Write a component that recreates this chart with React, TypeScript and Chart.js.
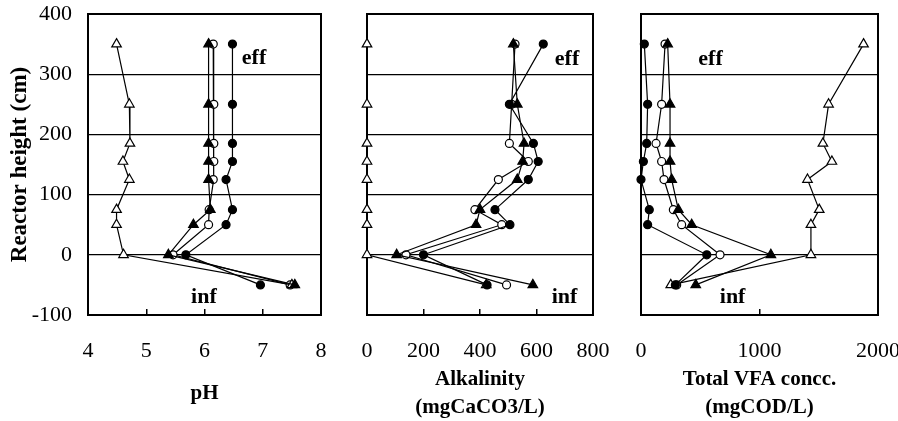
import React, { useEffect, useRef } from "react";
import { Chart, registerables } from "chart.js";

Chart.register(...registerables);

// ---- data ----
const heights = [350, 250, 185, 155, 125, 75, 50, 0, -50];
const yTickValues = [-100, 0, 100, 200, 300, 400];

const phOpenTriangle = [4.49, 4.71, 4.72, 4.6, 4.71, 4.49, 4.49, 4.61, 7.5];
const phOpenCircle = [6.15, 6.16, 6.16, 6.16, 6.15, 6.08, 6.07, 5.46, 7.47];
const phFilledCircle = [6.48, 6.48, 6.48, 6.48, 6.37, 6.48, 6.37, 5.68, 6.96];
const phFilledTriangle = [6.07, 6.07, 6.07, 6.07, 6.07, 6.1, 5.81, 5.38, 7.55];

const alkOpenTriangle = [0, 0, 0, 0, 0, 0, 0, 0, 422];
const alkOpenCircle = [524, 512, 504, 571, 465, 382, 477, 138, 494];
const alkFilledCircle = [624, 504, 589, 606, 571, 453, 506, 200, 425];
const alkFilledTriangle = [518, 532, 556, 551, 532, 400, 386, 105, 587];

const vfaOpenTriangle = [1878, 1583, 1535, 1611, 1405, 1504, 1434, 1434, 251];
const vfaOpenCircle = [203, 174, 127, 174, 194, 273, 343, 667, 301];
const vfaFilledCircle = [28, 56, 48, 20, 0, 70, 56, 555, 290];
const vfaFilledTriangle = [225, 245, 245, 245, 259, 315, 428, 1096, 462];

const phTicks = [4, 5, 6, 7, 8];
const alkTicks = [0, 200, 400, 600, 800];
const vfaTicks = [0, 1000, 2000];

const noteLabels = ["eff", "inf"];
const phNotes = [[6.85, 327], [5.99, -70]];
const alkNotes = [[708, 324], [699, -71]];
const vfaNotes = [[587, 325], [773, -70]];

const yTitle = "Reactor height (cm)";
const phTitle = ["pH"];
const alkTitle = ["Alkalinity", "(mgCaCO3/L)"];
const vfaTitle = ["Total VFA concc.", "(mgCOD/L)"];

const SERIF = "'Liberation Serif', 'Times New Roman', serif";

type PanelProps = {
  left: number;
  width: number;
  padLeft: number;
  padRight: number;
  showY: boolean;
  ticks: number[];
  title: string[];
  titlePad: number;
  titleLH: number;
  openTri: number[];
  openCir: number[];
  fillCir: number[];
  fillTri: number[];
  notes: number[][];
};

function Panel(p: PanelProps) {
  const ref = useRef<HTMLCanvasElement>(null);
  useEffect(() => {
    if (!ref.current) return;
    const mk = (xs: number[], shape: string, fill: string, r: number) => ({
      data: xs.map((x, i) => ({ x, y: heights[i] })),
      showLine: true,
      borderColor: "#000",
      borderWidth: 1.2,
      pointStyle: shape,
      pointRadius: r,
      pointBackgroundColor: fill,
      pointBorderColor: "#000",
      pointBorderWidth: 1.2,
      clip: false as any,
      tension: 0,
    });
    const boxPlugin = {
      id: "box",
      beforeDatasetsDraw(chart: any) {
        const { ctx, chartArea: a } = chart;
        ctx.save();
        ctx.strokeStyle = "#000";
        ctx.lineWidth = 2;
        ctx.strokeRect(a.left, a.top, a.right - a.left, a.bottom - a.top);
        ctx.restore();
      },
      afterDatasetsDraw(chart: any) {
        const { ctx } = chart;
        const xs = chart.scales.x;
        const ys = chart.scales.y;
        ctx.save();
        ctx.fillStyle = "#000";
        ctx.font = `bold 22px ${SERIF}`;
        ctx.textAlign = "center";
        ctx.textBaseline = "middle";
        p.notes.forEach((n, i) => {
          ctx.fillText(noteLabels[i], xs.getPixelForValue(n[0]), ys.getPixelForValue(n[1]));
        });
        ctx.restore();
      },
    };
    const chart = new Chart(ref.current, {
      type: "scatter",
      data: {
        datasets: [
          mk(p.fillTri, "triangle", "#000", 5.5),
          mk(p.fillCir, "circle", "#000", 4),
          mk(p.openTri, "triangle", "#fff", 5.5),
          mk(p.openCir, "circle", "#fff", 4),
        ] as any,
      },
      options: {
        animation: false,
        responsive: false,
        maintainAspectRatio: false,
        devicePixelRatio: 1,
        layout: { padding: { left: p.padLeft, right: p.padRight, top: 14, bottom: 0 } },
        plugins: { legend: { display: false }, tooltip: { enabled: false } },
        scales: {
          x: {
            type: "linear",
            position: "bottom",
            min: p.ticks[0],
            max: p.ticks[p.ticks.length - 1],
            afterBuildTicks: (s: any) => {
              s.ticks = p.ticks.map((v) => ({ value: v }));
            },
            afterFit: (s: any) => {
              s.height = 106;
              s.paddingLeft = 0;
              s.paddingRight = 0;
            },
            ticks: {
              color: "#000",
              font: { family: SERIF, size: 22 },
              padding: 29,
              maxRotation: 0,
              autoSkip: false,
              callback: (v: any) => String(v),
            },
            grid: {
              drawOnChartArea: false,
              drawTicks: true,
              tickLength: -6,
              color: "#000",
              lineWidth: 1.5,
            },
            border: { display: false },
            title: {
              display: true,
              text: p.title,
              color: "#000",
              font: { family: SERIF, size: 21, weight: "bold", lineHeight: p.titleLH },
              padding: { top: 0, bottom: p.titlePad },
            },
          },
          y: {
            type: "linear",
            position: "left",
            min: -100,
            max: 400,
            afterBuildTicks: (s: any) => {
              s.ticks = yTickValues.map((v) => ({ value: v }));
            },
            afterFit: (s: any) => {
              s.width = p.showY ? 88 : 0;
              s.paddingTop = 0;
              s.paddingBottom = 0;
            },
            ticks: {
              display: p.showY,
              color: "#000",
              font: { family: SERIF, size: 22 },
              padding: 16,
              callback: (v: any) => String(v),
            },
            grid: {
              drawOnChartArea: true,
              drawTicks: false,
              color: "#000",
              lineWidth: 1.2,
            },
            border: { display: false },
            title: {
              display: p.showY,
              text: yTitle,
              color: "#000",
              font: { family: SERIF, size: 23, weight: "bold" },
              padding: { top: 6, bottom: 0 },
            },
          },
        },
      } as any,
      plugins: [boxPlugin],
    });
    return () => chart.destroy();
  }, []);
  return (
    <canvas
      ref={ref}
      width={p.width}
      height={421}
      style={{ position: "absolute", left: p.left, top: 0, width: p.width, height: 421 }}
    />
  );
}

export default function App() {
  return (
    <div
      style={{
        position: "fixed",
        left: 0,
        top: 0,
        width: 898,
        height: 421,
        background: "#fff",
        overflow: "hidden",
      }}
    >
      <Panel
        left={0}
        width={345}
        padLeft={0}
        padRight={24}
        showY={true}
        ticks={phTicks}
        title={phTitle}
        titlePad={15}
        titleLH={1.2}
        openTri={phOpenTriangle}
        openCir={phOpenCircle}
        fillCir={phFilledCircle}
        fillTri={phFilledTriangle}
        notes={phNotes}
      />
      <Panel
        left={345}
        width={270}
        padLeft={22}
        padRight={22}
        showY={false}
        ticks={alkTicks}
        title={alkTitle}
        titlePad={0}
        titleLH={1.3}
        openTri={alkOpenTriangle}
        openCir={alkOpenCircle}
        fillCir={alkFilledCircle}
        fillTri={alkFilledTriangle}
        notes={alkNotes}
      />
      <Panel
        left={615}
        width={283}
        padLeft={26}
        padRight={20}
        showY={false}
        ticks={vfaTicks}
        title={vfaTitle}
        titlePad={0}
        titleLH={1.3}
        openTri={vfaOpenTriangle}
        openCir={vfaOpenCircle}
        fillCir={vfaFilledCircle}
        fillTri={vfaFilledTriangle}
        notes={vfaNotes}
      />
    </div>
  );
}
